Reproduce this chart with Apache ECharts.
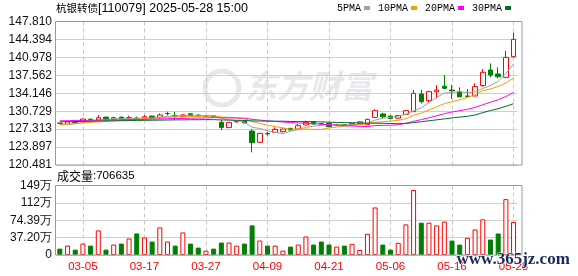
<!DOCTYPE html>
<html><head><meta charset="utf-8">
<script src="https://cdn.jsdelivr.net/npm/echarts@6.0.0/dist/echarts.min.js"></script>
<style>html,body{margin:0;padding:0;background:#fff}#c{width:578px;height:276px}</style>
</head><body><div id="c"></div>
<script>
const dates = ['02-28','03-03','03-04','03-05','03-06','03-07','03-10','03-11','03-12','03-13','03-14','03-17','03-18','03-19','03-20','03-21','03-24','03-25','03-26','03-27','03-28','03-31','04-01','04-02','04-03','04-07','04-08','04-09','04-10','04-11','04-14','04-15','04-16','04-17','04-18','04-21','04-22','04-23','04-24','04-25','04-28','04-29','04-30','05-06','05-07','05-08','05-09','05-12','05-13','05-14','05-15','05-16','05-19','05-20','05-21','05-22','05-23','05-26','05-27','05-28'];
const opens = [128.45,128.20,128.70,128.86,129.20,129.05,129.60,129.20,129.60,129.45,129.40,129.30,129.80,129.55,130.30,129.90,129.68,130.25,130.00,129.80,129.85,128.60,127.60,128.70,128.90,126.95,124.80,126.50,126.70,126.83,127.46,127.33,128.10,128.73,128.35,128.41,128.20,128.15,128.20,128.40,128.16,129.55,130.19,129.80,129.40,130.13,130.64,134.00,132.73,134.45,135.50,134.76,134.45,133.62,133.62,135.60,138.57,137.81,137.18,141.11];
const closes = [128.40,128.70,128.60,129.24,129.10,129.49,129.24,129.50,129.24,129.50,129.30,129.68,129.43,130.00,130.25,129.80,130.00,129.87,129.80,129.85,129.70,127.60,128.60,128.85,128.50,124.73,126.50,126.40,127.27,127.33,127.14,127.97,128.60,128.29,128.25,127.78,128.10,128.05,128.45,128.70,129.17,130.83,129.68,129.36,129.90,130.83,134.13,132.54,134.45,134.76,135.08,134.60,133.45,133.52,135.40,138.13,137.62,137.30,140.98,144.41];
const highs = [128.55,128.75,128.85,129.30,129.30,130.00,129.65,129.68,129.65,129.87,129.68,130.00,129.85,130.32,130.63,130.57,130.19,130.30,130.05,129.95,129.90,129.05,128.65,129.00,128.95,127.27,126.60,126.80,127.65,127.40,127.55,128.30,128.92,128.80,128.50,128.50,128.35,128.30,128.55,128.80,129.30,131.08,130.44,129.90,130.00,130.90,134.76,134.76,134.60,135.70,137.60,135.70,135.27,134.95,136.03,138.76,139.84,139.08,142.25,145.68];
const lows = [128.30,128.15,128.45,128.80,128.95,129.00,128.90,129.15,129.20,129.05,129.05,129.25,129.40,129.30,129.90,129.05,129.60,129.80,129.75,129.75,129.65,127.14,127.55,128.55,128.40,122.89,124.70,126.06,126.60,126.70,127.05,127.30,128.05,128.20,128.15,127.70,127.95,127.95,128.10,128.35,128.10,129.50,129.36,129.20,129.30,130.05,130.60,132.20,132.35,133.20,134.95,133.05,133.45,133.36,133.62,135.40,137.18,136.98,136.98,140.98];
const volumes = [136000,201000,115000,244000,201000,526000,115000,223000,244000,353000,461000,374000,288000,591000,288000,201000,482000,244000,158000,93000,136000,266000,266000,201000,244000,634000,309000,201000,201000,93000,180000,223000,396000,223000,288000,223000,180000,201000,238000,108000,454000,1017000,223000,115000,260000,655000,1391000,692000,692000,634000,714000,309000,223000,368000,547000,764000,331000,461000,1196000,706635];
const ma5 = [128.10,128.20,128.35,128.55,128.81,129.03,129.13,129.31,129.31,129.39,129.36,129.44,129.43,129.58,129.73,129.83,129.90,129.98,129.94,129.86,129.84,129.36,129.11,128.92,128.65,127.66,127.44,127.00,126.68,126.45,126.93,127.22,127.66,127.87,128.05,128.18,128.20,128.09,128.13,128.22,128.49,129.04,129.37,129.55,129.79,130.12,130.78,131.35,132.37,133.34,134.19,134.29,134.47,134.28,134.41,135.02,135.62,136.39,137.89,139.69];
const ma10 = [128.20,128.28,128.35,128.50,128.60,128.68,128.78,128.88,128.98,129.10,129.19,129.29,129.37,129.45,129.56,129.59,129.67,129.71,129.76,129.80,129.84,129.63,129.55,129.43,129.26,128.75,128.40,128.05,127.80,127.55,127.29,127.33,127.33,127.27,127.25,127.55,127.71,127.88,128.00,128.13,128.34,128.62,128.73,128.84,129.00,129.31,129.91,130.36,130.96,131.57,132.16,132.53,132.91,133.33,133.88,134.61,134.96,135.43,136.08,137.05];
const ma20 = [128.90,128.92,128.95,128.98,129.00,129.02,129.05,129.08,129.10,129.12,129.15,129.18,129.21,129.25,129.29,129.32,129.35,129.38,129.42,129.45,129.51,129.46,129.46,129.44,129.41,129.17,129.04,128.88,128.78,128.67,128.57,128.48,128.44,128.35,128.25,128.15,128.06,127.97,127.90,127.84,127.81,127.98,128.03,128.06,128.13,128.43,128.81,129.12,129.48,129.85,130.25,130.58,130.82,131.08,131.44,131.96,132.43,132.90,133.52,134.31];
const ma30 = [128.70,128.72,128.75,128.78,128.82,128.85,128.88,128.90,128.92,128.95,128.97,128.99,129.01,129.03,129.05,129.07,129.08,129.10,129.11,129.12,129.12,129.06,129.03,129.00,128.97,128.88,128.85,128.84,128.83,128.82,128.77,128.75,128.75,128.72,128.69,128.63,128.59,128.55,128.52,128.49,128.45,128.45,128.42,128.38,128.35,128.40,128.55,128.72,128.90,129.08,129.26,129.45,129.60,129.75,130.00,130.45,130.85,131.20,131.65,132.15];
const priceTicks = ['120.481','123.897','127.313','130.729','134.146','137.562','140.978','144.394','147.810'];
const volTicks = ['0','37.20万','74.39万','112万','149万'];
const dateLabels = ['03-05','03-17','03-27','04-09','04-21','05-06','05-16','05-28'];
const maNames = ['5PMA','10PMA','20PMA','30PMA'];
const titleName = '杭银转债';
const titleInfo = '[110079] 2025-05-28 15:00';
const volTitle = '成交量';

const UP = '#ff0000', DOWN = '#008000';
const MA_COLORS = ['#a0a0a0', '#f0a000', '#ff00ff', '#006e28'];
const priceMin = 120.481, priceStep = 3.416125, priceMax = 147.81;
const volStep = 371950, volMax = 1487800;
const labelIdx = dateLabels.map(d => dates.indexOf(d));
const showAt = (i) => labelIdx.indexOf(i) >= 0;

const volData = volumes.map((v, i) => {
  const up = i === 0 ? closes[0] >= opens[0] : closes[i] >= closes[i - 1];
  return { value: v, itemStyle: up ? { color: '#fff', borderColor: UP, borderWidth: 1 } : { color: DOWN, borderColor: DOWN, borderWidth: 1 } };
});
const kData = dates.map((d, i) => [opens[i], closes[i], lows[i], highs[i]]);

const chart = echarts.init(document.getElementById('c'), null, { renderer: 'canvas' });
const GL = 56, GW = 461.4;
const labelFont = 'Liberation Sans, Arial, sans-serif';
chart.setOption({
  animation: false,
  backgroundColor: '#fff',
  title: [
    { text: '{a|' + titleName + '}{b|' + titleInfo + '}', left: 56, top: 2, padding: 0,
      textStyle: { fontWeight: 'normal', rich: { a: { fontFamily: 'Noto Sans CJK SC', fontSize: 10.5, fontWeight: 'normal', color: '#000' }, b: { fontFamily: labelFont, fontSize: 12.5, fontWeight: 'normal', color: '#000' } } } },
    { text: '{a|' + volTitle + '}{b|:' + volumes[volumes.length - 1] + '}', left: 57, top: 170, padding: 0,
      textStyle: { fontWeight: 'normal', rich: { a: { fontFamily: 'Noto Sans CJK SC', fontSize: 12, fontWeight: 'normal', color: '#000' }, b: { fontFamily: labelFont, fontSize: 11.5, fontWeight: 'normal', color: '#000' } } } }
  ],
  legend: {
    data: maNames, left: 337, top: 3, align: 'right', icon: 'rect', itemWidth: 6, itemHeight: 4, itemGap: 8, padding: 0,
    selectedMode: false,
    textStyle: { fontFamily: 'Liberation Mono, monospace', fontSize: 10, color: '#000', padding: [0, -2, 0, 0] }
  },
  grid: [
    { left: GL, top: 21.5, width: GW, height: 143.5 },
    { left: GL, top: 185.5, width: GW, height: 69.5 }
  ],
  xAxis: [
    { type: 'category', gridIndex: 0, data: dates, boundaryGap: true,
      axisLine: { show: false }, axisTick: { show: false }, axisLabel: { show: false },
      splitLine: { show: true, interval: (i) => showAt(i), alignWithLabel: true, lineStyle: { color: '#c8c8c8', type: [4, 3], width: 1 } } },
    { type: 'category', gridIndex: 1, data: dates, boundaryGap: true,
      axisLine: { show: false }, axisTick: { show: false },
      axisLabel: { show: true, interval: (i) => showAt(i), color: '#ff0000', fontSize: 11.5, fontFamily: labelFont, margin: 6 },
      splitLine: { show: true, interval: (i) => showAt(i), alignWithLabel: true, lineStyle: { color: '#c8c8c8', type: [4, 3], width: 1 } } }
  ],
  yAxis: [
    { type: 'value', gridIndex: 0, min: priceMin, max: priceMax, interval: priceStep, scale: true,
      axisLine: { show: false }, axisTick: { show: false },
      axisLabel: { color: '#111', fontSize: 12, fontFamily: labelFont, margin: 4, formatter: (v) => priceTicks[Math.round((v - priceMin) / priceStep)] || '' },
      splitLine: { show: true, lineStyle: { color: '#cfcfcf', width: 1 } } },
    { type: 'value', gridIndex: 1, min: 0, max: volMax, interval: volStep,
      axisLine: { show: false }, axisTick: { show: false },
      axisLabel: { color: '#111', fontSize: 12, fontFamily: labelFont, margin: 4, formatter: (v) => volTicks[Math.round(v / volStep)] || '' },
      splitLine: { show: true, lineStyle: { color: '#cfcfcf', width: 1 } } }
  ],
  series: [
    { type: 'candlestick', name: 'K', xAxisIndex: 0, yAxisIndex: 0, data: kData, barWidth: 5, z: 2,
      itemStyle: { color: '#fff', color0: DOWN, borderColor: UP, borderColor0: DOWN, borderWidth: 1 } },
    ...[ma5, ma10, ma20, ma30].map((arr, k) => ({
      type: 'line', name: maNames[k], xAxisIndex: 0, yAxisIndex: 0, data: arr, showSymbol: false, symbol: 'none', z: 3,
      lineStyle: { color: MA_COLORS[k], width: 1 }, itemStyle: { color: MA_COLORS[k] } })),
    { type: 'bar', name: 'VOL', xAxisIndex: 1, yAxisIndex: 1, data: volData, barWidth: 5, z: 2 }
  ],
  graphic: [
    { type: 'text', left: 245, top: 70, z: 0, silent: true,
      style: { text: '东方财富', font: 'italic bold 32px "Noto Sans CJK SC"', fill: '#e8e8ec' } },
    { type: 'circle', shape: { cx: 222, cy: 88, r: 17 }, z: 0, silent: true,
      style: { fill: 'none', stroke: '#e8e8ec', lineWidth: 5 } },
    { type: 'rect', shape: { x: 55.5, y: 21.5, width: 466.5, height: 143.5 }, z: 10, silent: true,
      style: { fill: 'none', stroke: '#999', lineWidth: 1 } },
    { type: 'rect', shape: { x: 55.5, y: 185.5, width: 466.5, height: 69.5 }, z: 10, silent: true,
      style: { fill: 'none', stroke: '#999', lineWidth: 1 } },
    { type: 'text', left: 456, top: 251, z: 20, silent: true,
      style: { text: 'www.365jz.com', font: 'bold 17px "Liberation Serif"', fill: '#1a2a5e', stroke: '#fff', lineWidth: 1 } }
  ]
});
</script>
</body></html>
